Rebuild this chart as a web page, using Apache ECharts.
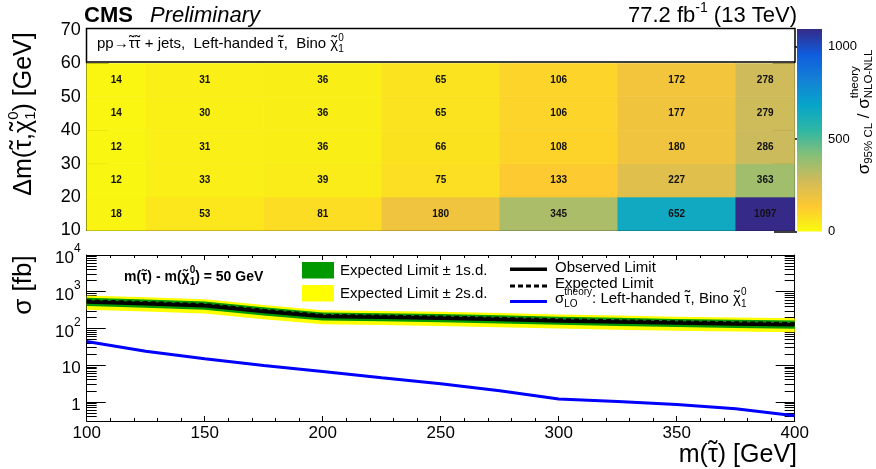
<!DOCTYPE html>
<html><head><meta charset="utf-8">
<script src="https://cdn.jsdelivr.net/npm/echarts@6/dist/echarts.min.js"></script>
<style>html,body{margin:0;padding:0;background:#fff}#c{width:876px;height:469px}</style>
</head><body><div id="c"></div><script>
const FONT = '"Liberation Sans", Arial, Helvetica, sans-serif';

// ---------- top panel: sigma95 / sigma_theory ratios ----------
const massX = [100, 150, 200, 250, 300, 350, 400];
const dmY = [15, 25, 35, 45, 55];
const ratioDm15 = [18, 53, 81, 180, 345, 652, 1097];
const ratioDm25 = [12, 33, 39, 75, 133, 227, 363];
const ratioDm35 = [12, 31, 36, 66, 108, 180, 286];
const ratioDm45 = [14, 30, 36, 65, 106, 177, 279];
const ratioDm55 = [14, 31, 36, 65, 106, 172, 278];
const ratioRows = [ratioDm15, ratioDm25, ratioDm35, ratioDm45, ratioDm55];
const cellW = 50, cellH = 10;
const colorMax = 1097;
const colorTicks = [0, 500, 1000];
const birdPalette = ['#f9fb0e', '#fec832', '#d1bb59', '#87bf77', '#2eb7a4', '#06a4ca', '#1481d6', '#0f5cdd', '#352a87'];

// ---------- bottom panel: cross sections (fb) for dm = 50 GeV ----------
const limX = [100, 125, 150, 175, 200, 225, 250, 275, 300, 325, 350, 375, 400];
const obsLimit = [525, 468, 415, 290, 210, 200, 190, 175, 160, 150, 140, 132, 126];
const expLimit = [567, 508, 448, 313, 227, 216, 205, 189, 173, 162, 151, 143, 136];
const expUp1 = [680, 610, 538, 376, 272, 259, 246, 227, 208, 194, 181, 172, 163];
const expDn1 = [408, 366, 323, 225, 163, 156, 148, 136, 125, 117, 109, 103, 98];
const expUp2 = [782, 701, 618, 432, 313, 298, 283, 261, 239, 224, 208, 197, 188];
const expDn2 = [323, 290, 255, 178, 129, 123, 117, 108, 99, 92, 86, 82, 78];
const theoryLO = [44, 24, 15, 9.8, 6.7, 4.5, 3.1, 2.0, 1.2, 1.02, 0.84, 0.65, 0.42];
const logMajor = [1, 10, 100, 1000, 10000];
const logMinor = [0.4,0.5,0.6,0.7,0.8,0.9, 2,3,4,5,6,7,8,9, 20,30,40,50,60,70,80,90,
                  200,300,400,500,600,700,800,900, 2000,3000,4000,5000,6000,7000,8000,9000];

// ---------- helpers for text with sub/superscripts and tildes ----------
const TILDE = '\u0303';
const mctx = document.createElement('canvas').getContext('2d');
function fontStr(p) { return (p.italic ? 'italic ' : '') + (p.bold ? 'bold ' : '') + p.size + 'px ' + FONT; }
function tw(t, p) { mctx.font = fontStr(p); return mctx.measureText(t).width; }
function textEl(t, x, dy, p) {
  return { type: 'text', x: x, y: dy || 0, z: 60,
    style: { text: t, font: fontStr(p), fill: p.color || '#000', align: 'left', verticalAlign: 'middle',
             textAlign: 'left', textVerticalAlign: 'middle' } };
}
function expandTilde(p) {
  if (p.t === undefined || p.t.indexOf(TILDE) < 0) return [p];
  const out = []; let buf = '';
  const chars = Array.from(p.t);
  for (let i = 0; i < chars.length; i++) {
    if (chars[i + 1] === TILDE) {
      if (buf) { out.push(Object.assign({}, p, { t: buf })); buf = ''; }
      out.push(Object.assign({}, p, { t: chars[i], tilde: true }));
      i++;
    } else buf += chars[i];
  }
  if (buf) out.push(Object.assign({}, p, { t: buf }));
  return out;
}
function richGroup(pieces0, opt) {
  let x = 0; const children = [];
  const pieces = [];
  pieces0.forEach(p => expandTilde(p).forEach(q => pieces.push(q)));
  for (const p of pieces) {
    if (p.sup !== undefined || p.sub !== undefined) {
      let w = 0;
      if (p.sup) { children.push(textEl(p.sup, x, p.supDy, p)); w = Math.max(w, tw(p.sup, p)); }
      if (p.sub) { children.push(textEl(p.sub, x, p.subDy, p)); w = Math.max(w, tw(p.sub, p)); }
      x += w;
    } else {
      const w = tw(p.t, p);
      children.push(textEl(p.t, x, p.dy || 0, p));
      if (p.tilde) {
        const tp = Object.assign({}, p, { size: p.size * 1.1, bold: false });
        const wt = tw('\u02dc', tp);
        children.push(textEl('\u02dc', x + (w - wt) / 2, (p.dy || 0) - p.size * 0.12, tp));
      }
      x += w;
    }
  }
  const shift = opt.align === 'center' ? -x / 2 : opt.align === 'right' ? -x : 0;
  children.forEach(c => { c.x += shift; });
  return { type: 'group', x: opt.x, y: opt.y, rotation: opt.rotation || 0, z: 60, children };
}

// ---------- data for series ----------
const heatData = [];
dmY.forEach((y, i) => massX.forEach((x, j) => heatData.push([x, y, ratioRows[i][j]])));

const black = '#000';
const tickStyle = { color: black, width: 1 };

function polyBand(up, dn, color) {
  return {
    type: 'custom', xAxisIndex: 1, yAxisIndex: 2, data: [[limX[0], up[0]]], z: 2,
    renderItem: (params, api) => {
      const pts = limX.map((x, i) => api.coord([x, up[i]]));
      for (let i = limX.length - 1; i >= 0; i--) pts.push(api.coord([limX[i], dn[i]]));
      return { type: 'polygon', shape: { points: pts }, style: { fill: color } };
    }
  };
}

const option = {
  animation: false,
  backgroundColor: '#fff',
  grid: [
    { left: 86.7, top: 30, width: 708, height: 200.5, outerBoundsMode: 'none' },
    { left: 86.7, top: 255, width: 708, height: 166, outerBoundsMode: 'none' },
    { left: 797, top: 29, width: 25, height: 202.5, outerBoundsMode: 'none' }
  ],
  xAxis: [
    { gridIndex: 0, type: 'value', min: 100, max: 400, interval: 50,
      axisLine: { lineStyle: tickStyle }, axisTick: { inside: true, length: 5, lineStyle: tickStyle },
      minorTick: { show: true, splitNumber: 5, length: 3, lineStyle: tickStyle },
      axisLabel: { show: false }, splitLine: { show: false } },
    { gridIndex: 1, type: 'value', min: 100, max: 400, interval: 50,
      axisLine: { lineStyle: tickStyle }, axisTick: { inside: true, length: 5, lineStyle: tickStyle },
      minorTick: { show: true, splitNumber: 5, length: 3, lineStyle: tickStyle },
      axisLabel: { color: black, fontSize: 17, fontFamily: FONT, margin: 4 }, splitLine: { show: false } },
    { gridIndex: 1, type: 'value', min: 100, max: 400, interval: 50, position: 'top',
      axisLine: { lineStyle: tickStyle }, axisTick: { inside: true, length: 5, lineStyle: tickStyle },
      minorTick: { show: true, splitNumber: 5, length: 3, lineStyle: tickStyle },
      axisLabel: { show: false }, splitLine: { show: false } },
    { gridIndex: 2, type: 'value', min: 0, max: 1, show: false }
  ],
  yAxis: [
    { gridIndex: 0, type: 'value', min: 10, max: 70, interval: 10, position: 'left',
      axisLine: { show: true, lineStyle: tickStyle }, axisTick: { inside: true, length: 22, lineStyle: tickStyle },
      minorTick: { show: true, splitNumber: 5, length: 11, lineStyle: tickStyle },
      axisLabel: { color: black, fontSize: 18, fontFamily: FONT, margin: 6 }, splitLine: { show: false } },
    { gridIndex: 0, type: 'value', min: 10, max: 70, interval: 10, position: 'right',
      axisLine: { show: true, lineStyle: tickStyle }, axisTick: { inside: true, length: 22, lineStyle: tickStyle },
      minorTick: { show: true, splitNumber: 5, length: 11, lineStyle: tickStyle },
      axisLabel: { show: false }, splitLine: { show: false } },
    { gridIndex: 1, type: 'log', logBase: 10, min: 0.3, max: 10000, position: 'left',
      axisLine: { show: true, lineStyle: tickStyle },
      axisTick: { inside: true, length: 19, lineStyle: tickStyle, customValues: logMajor },
      axisLabel: { customValues: logMajor, color: black, fontFamily: FONT, fontSize: 17, margin: 6,
        formatter: v => { const e = Math.round(Math.log10(v)); return e === 0 ? '{m|1}' : e === 1 ? '{m|10}' : '{m|10}{s|' + e + '}'; },
        rich: { m: { fontSize: 17, fontFamily: FONT, color: black, lineHeight: 24, verticalAlign: 'bottom' },
                s: { fontSize: 12, fontFamily: FONT, color: black, lineHeight: 12, verticalAlign: 'top' } } },
      splitLine: { show: false } },
    { gridIndex: 1, type: 'log', logBase: 10, min: 0.3, max: 10000, position: 'left',
      axisLine: { show: false }, axisTick: { inside: true, length: 10, lineStyle: tickStyle, customValues: logMinor },
      axisLabel: { show: false }, splitLine: { show: false } },
    { gridIndex: 1, type: 'log', logBase: 10, min: 0.3, max: 10000, position: 'right',
      axisLine: { show: true, lineStyle: tickStyle }, axisTick: { inside: true, length: 19, lineStyle: tickStyle, customValues: logMajor },
      axisLabel: { show: false }, splitLine: { show: false } },
    { gridIndex: 1, type: 'log', logBase: 10, min: 0.3, max: 10000, position: 'right',
      axisLine: { show: false }, axisTick: { inside: true, length: 10, lineStyle: tickStyle, customValues: logMinor },
      axisLabel: { show: false }, splitLine: { show: false } },
    { gridIndex: 2, type: 'value', min: 0, max: colorMax, position: 'right',
      axisLine: { show: false },
      axisTick: { inside: true, length: 23, lineStyle: { color: black, width: 1.5 }, customValues: colorTicks },
      axisLabel: { customValues: colorTicks, color: black, fontFamily: FONT, fontSize: 13, margin: 6,
                   formatter: v => String(v) },
      splitLine: { show: false } }
  ],
  visualMap: [{ type: 'continuous', show: false, min: 0, max: colorMax, dimension: 2, seriesIndex: 0,
    inRange: { color: birdPalette } }],
  series: [
    { type: 'custom', xAxisIndex: 0, yAxisIndex: 0, data: heatData, z: 1,
      renderItem: (params, api) => {
        const x = api.value(0), y = api.value(1), v = api.value(2);
        const p0 = api.coord([x - cellW / 2, y + cellH / 2]);
        const p1 = api.coord([x + cellW / 2, y - cellH / 2]);
        const cs = params.coordSys;
        const r = echarts.graphic.clipRectByRect(
          { x: p0[0], y: p0[1], width: p1[0] - p0[0], height: p1[1] - p0[1] },
          { x: cs.x, y: cs.y, width: cs.width, height: cs.height });
        if (!r) return;
        const c = api.visual('color');
        return { type: 'group', children: [
          { type: 'rect', shape: r, style: { fill: c, stroke: c, lineWidth: 0.6 } },
          { type: 'text', x: r.x + r.width / 2, y: r.y + r.height / 2,
            style: { text: String(v), font: 'bold 10px ' + FONT, fill: '#111', align: 'center', verticalAlign: 'middle',
                     textAlign: 'center', textVerticalAlign: 'middle' } }
        ] };
      } },
    { type: 'custom', xAxisIndex: 3, yAxisIndex: 6, data: [[0, colorMax]], z: 1,
      renderItem: (params, api) => {
        const p0 = api.coord([0, colorMax]);
        const p1 = api.coord([1, 0]);
        const stops = birdPalette.slice().reverse().map((col, i) => ({ offset: i / (birdPalette.length - 1), color: col }));
        return { type: 'rect', shape: { x: p0[0], y: p0[1], width: p1[0] - p0[0], height: p1[1] - p0[1] },
          style: { fill: new echarts.graphic.LinearGradient(0, 0, 0, 1, stops) } };
      } },
    polyBand(expUp2, expDn2, '#ffff00'),
    polyBand(expUp1, expDn1, '#009a00'),
    { type: 'line', xAxisIndex: 1, yAxisIndex: 2, data: limX.map((x, i) => [x, obsLimit[i]]), symbol: 'none', z: 3,
      lineStyle: { color: black, width: 3.5 } },
    { type: 'line', xAxisIndex: 1, yAxisIndex: 2, data: limX.map((x, i) => [x, expLimit[i]]), symbol: 'none', z: 4,
      lineStyle: { color: black, width: 3, type: [5, 3] } },
    { type: 'line', xAxisIndex: 1, yAxisIndex: 2, data: limX.map((x, i) => [x, theoryLO[i]]), symbol: 'none', z: 4,
      lineStyle: { color: '#0000ff', width: 3 } }
  ],
  graphic: [
    { type: 'rect', z: 50, shape: { x: 86.5, y: 28.5, width: 708.5, height: 33.5 },
      style: { fill: '#fff', stroke: black, lineWidth: 1.5 } },
    richGroup([{ t: 'pp\u2192\u03c4\u0303\u03c4\u0303 + jets,  Left-handed \u03c4\u0303,  Bino \u03c7\u0303', size: 15 },
               { sup: '0', sub: '1', size: 10, supDy: -6, subDy: 5 }], { x: 97, y: 44 }),
    richGroup([{ t: 'CMS', size: 22, bold: true }], { x: 84, y: 16 }),
    richGroup([{ t: 'Preliminary', size: 22, italic: true }], { x: 150, y: 16 }),
    richGroup([{ t: '77.2 fb', size: 22 }, { sup: '-1', size: 14, supDy: -8 }, { t: ' (13 TeV)', size: 22 }],
              { x: 797, y: 16, align: 'right' }),
    richGroup([{ t: '\u0394m(\u03c4\u0303,\u03c7\u0303', size: 25 }, { sup: '0', sub: '1', size: 15, supDy: -10, subDy: 7 }, { t: ') [GeV]', size: 25 }],
              { x: 24, y: 114, rotation: Math.PI / 2, align: 'center' }),
    richGroup([{ t: '\u03c3 [fb]', size: 26 }], { x: 24, y: 285, rotation: Math.PI / 2, align: 'center' }),
    richGroup([{ t: 'm(\u03c4\u0303) [GeV]', size: 25 }], { x: 797, y: 455, align: 'right' }),
    richGroup([{ t: '\u03c3', size: 17 }, { sub: '95% CL', size: 11.5, subDy: 5 }, { t: ' / ', size: 17 },
               { t: '\u03c3', size: 17 }, { sup: 'theory', sub: 'NLO-NLL', size: 11.5, supDy: -9, subDy: 5 }],
              { x: 864, y: 112, rotation: Math.PI / 2, align: 'center' }),
    richGroup([{ t: 'm(\u03c4\u0303) - m(\u03c7\u0303', size: 14, bold: true }, { sup: '0', sub: '1', size: 10, bold: true, supDy: -7, subDy: 5 },
               { t: ') = 50 GeV', size: 14, bold: true }], { x: 124, y: 277 }),
    { type: 'rect', z: 50, shape: { x: 302, y: 262, width: 32, height: 16.5 }, style: { fill: '#009a00' } },
    { type: 'rect', z: 50, shape: { x: 302, y: 285, width: 32, height: 16.5 }, style: { fill: '#ffff00' } },
    richGroup([{ t: 'Expected Limit \u00b1 1s.d.', size: 15 }], { x: 340, y: 270.5 }),
    richGroup([{ t: 'Expected Limit \u00b1 2s.d.', size: 15 }], { x: 340, y: 293.5 }),
    { type: 'line', z: 50, shape: { x1: 510, y1: 269.3, x2: 547, y2: 269.3 }, style: { stroke: black, lineWidth: 3.5 } },
    { type: 'line', z: 50, shape: { x1: 510, y1: 286, x2: 547, y2: 286 }, style: { stroke: black, lineWidth: 3, lineDash: [5, 3] } },
    { type: 'line', z: 50, shape: { x1: 510, y1: 301.5, x2: 547, y2: 301.5 }, style: { stroke: '#0000ff', lineWidth: 3 } },
    richGroup([{ t: 'Observed Limit', size: 15 }], { x: 555, y: 267.5 }),
    richGroup([{ t: 'Expected Limit', size: 15 }], { x: 555, y: 284 }),
    richGroup([{ t: '\u03c3', size: 15 }, { sup: 'theory', sub: 'LO', size: 10, supDy: -7, subDy: 5 },
               { t: ': Left-handed \u03c4\u0303, Bino \u03c7\u0303', size: 15 }, { sup: '0', sub: '1', size: 10, supDy: -7, subDy: 5 }],
              { x: 555, y: 299 })
  ]
};

const chart = echarts.init(document.getElementById('c'), null, { renderer: 'canvas', width: 876, height: 469 });
chart.setOption(option);
</script></body></html>
